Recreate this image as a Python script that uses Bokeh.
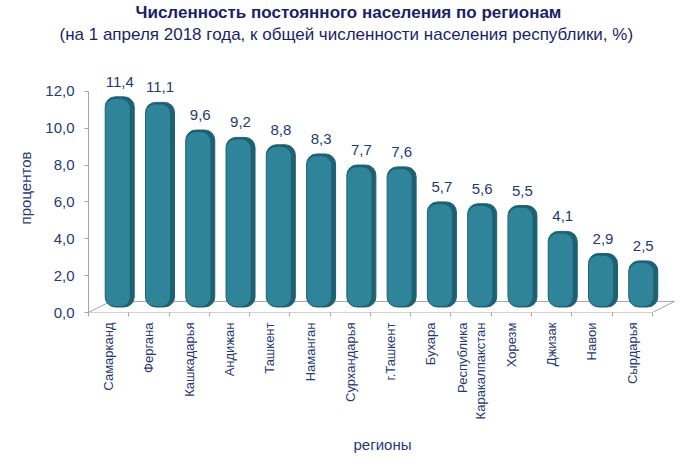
import math
from bokeh.plotting import figure
from bokeh.models import ColumnDataSource, Range1d, FixedTicker, LabelSet, Title
from bokeh.core.properties import value
from bokeh.transform import dodge
from bokeh.embed import file_html
from bokeh.resources import INLINE

# ---- data ----
regions = ["Самарканд", "Фергана", "Кашкадарья", "Андижан", "Ташкент", "Наманган",
           "Сурхандарья", "г.Ташкент", "Бухара", "Республика\nКаракалпакстан",
           "Хорезм", "Джизак", "Навои", "Сырдарья"]
values = [11.4, 11.1, 9.6, 9.2, 8.8, 8.3, 7.7, 7.6, 5.7, 5.6, 5.5, 4.1, 2.9, 2.5]
y_ticks = [0, 2, 4, 6, 8, 10, 12]
title_text = "Численность постоянного населения по регионам"
subtitle_text = "(на 1 апреля 2018 года, к общей численности населения республики, %)"
y_title = "процентов"
x_title = "регионы"

def fmt(v):
    return f"{v:.1f}".replace(".", ",")

n = len(regions)
centers = [i + 0.5 for i in range(n)]
bounds = list(range(n + 1))

src = ColumnDataSource(dict(x=centers, value=values, label=[fmt(v) for v in values]))

NAVY = "#1F3A74"
TITLE = "#1B1F6B"
GRAY = "#A6A6A6"
FONT = "Liberation Sans"
DEPTH_X, DEPTH_Y = 0.55, 0.6   # 3-D floor depth (in axis units)

p = figure(width=692, height=461, output_backend="svg", toolbar_location=None,
           x_range=Range1d(0, n + 0.6), y_range=Range1d(0, 13.51),
           min_border_left=88, min_border_right=16, min_border_top=62, min_border_bottom=149)
p.outline_line_color = None
p.xgrid.visible = False
p.ygrid.visible = False
p.background_fill_color = "white"
p.border_fill_color = "white"

# titles: main title on top, subtitle (added later) nearer the plot
p.title.text = title_text
p.title.align = "left"
p.title.offset = 47
p.title.text_font = FONT
p.title.text_font_size = "17px"
p.title.text_font_style = "bold"
p.title.text_color = TITLE
p.title.standoff = 1
sub = Title(text=subtitle_text, align="left", offset=-29, text_font=FONT,
            text_font_size="17px", text_font_style="normal", text_color=TITLE, standoff=1)
if "padding" in Title.properties():
    sub.padding = dict(left=0, right=0, top=0, bottom=19)
    p.add_layout(sub, "above")
else:
    p.add_layout(sub, "above")
    p.add_layout(Title(text=" ", text_font_size="14px", standoff=2), "above")

# 3-D floor
fx = [0, n, n + DEPTH_X, DEPTH_X, 0]
fy = [0, 0, DEPTH_Y, DEPTH_Y, 0]
p.line(fx, fy, line_color=GRAY, line_width=1)

# bars (cylinder look)
half = DEPTH_X / 2
base = DEPTH_Y / 2
p.vbar(x=dodge("x", half, range=p.x_range), width=0.72, bottom=base,
       top=dodge("value", base, range=p.y_range), source=src,
       fill_color="#1D6173", line_color="#1D6173", border_radius=10)
p.vbar(x=dodge("x", half - 0.05, range=p.x_range), width=0.60, bottom=base + 0.05,
       top=dodge("value", base - 0.12, range=p.y_range), source=src,
       fill_color="#2F8499", line_color=None, border_radius=9)

labels = LabelSet(x=dodge("x", half, range=p.x_range), y=dodge("value", base, range=p.y_range),
                  text="label", source=src, y_offset=10, text_align="center",
                  text_baseline="alphabetic", text_font=value(FONT),
                  text_font_size="15px", text_color=NAVY)
p.add_layout(labels)

# axes
p.yaxis.ticker = FixedTicker(ticks=y_ticks)
p.yaxis.bounds = (y_ticks[0], y_ticks[-1])
p.yaxis.major_label_overrides = {t: fmt(t) for t in y_ticks}
p.yaxis.minor_tick_line_color = None
p.yaxis.major_tick_out = 4
p.yaxis.major_tick_in = 0
p.yaxis.axis_line_color = GRAY
p.yaxis.major_tick_line_color = GRAY
p.yaxis.major_label_text_font = FONT
p.yaxis.major_label_text_font_size = "15px"
p.yaxis.major_label_text_color = NAVY
p.yaxis.major_label_standoff = 10
p.yaxis.axis_label = y_title
p.yaxis.axis_label_text_font = FONT
p.yaxis.axis_label_text_font_size = "15px"
p.yaxis.axis_label_text_font_style = "normal"
p.yaxis.axis_label_text_color = NAVY
p.yaxis.axis_label_standoff = 8

p.xaxis.ticker = FixedTicker(ticks=centers, minor_ticks=bounds)
p.xaxis.major_label_overrides = {c: r for c, r in zip(centers, regions)}
p.xaxis.axis_line_color = None
p.xaxis.major_tick_line_color = None
p.xaxis.minor_tick_line_color = GRAY
p.xaxis.minor_tick_out = 4
p.xaxis.minor_tick_in = 0
p.xaxis.major_tick_out = 4
p.xaxis.major_label_orientation = math.pi / 2
p.xaxis.major_label_standoff = 6
p.xaxis.major_label_text_font = FONT
p.xaxis.major_label_text_font_size = "13px"
p.xaxis.major_label_text_color = NAVY
p.xaxis.axis_label = x_title
p.xaxis.axis_label_text_font = FONT
p.xaxis.axis_label_text_font_size = "15px"
p.xaxis.axis_label_text_font_style = "normal"
p.xaxis.axis_label_text_color = NAVY
p.xaxis.axis_label_standoff = 14

open("out.html", "w").write(file_html(p, INLINE))
